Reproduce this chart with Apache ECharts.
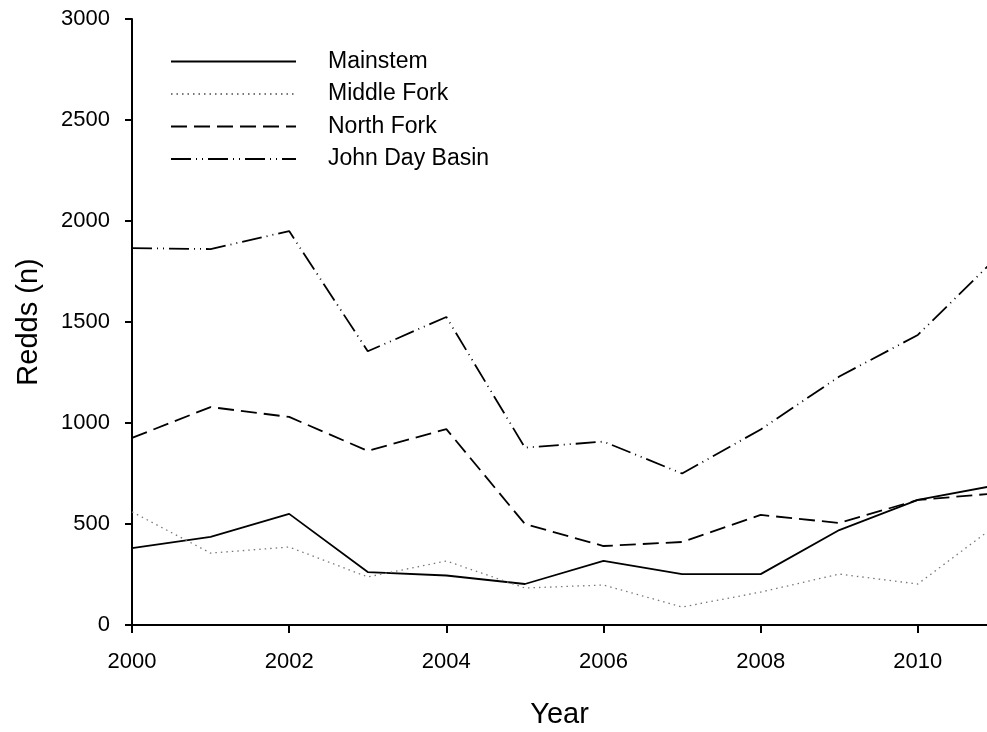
<!DOCTYPE html>
<html>
<head>
<meta charset="utf-8">
<script src="https://cdn.jsdelivr.net/npm/echarts@6/dist/echarts.min.js"></script>
<style>
  html, body { margin: 0; padding: 0; background: #fff; }
  #chart { width: 987px; height: 732px; }
</style>
</head>
<body>
<div id="chart"></div>
<script>
// data
var years = [2000, 2001, 2002, 2003, 2004, 2005, 2006, 2007, 2008, 2009, 2010, 2011];
var mainstem = [381, 436, 550, 262, 245, 203, 317, 252, 252, 470, 619, 692];
var middleFork = [560, 356, 386, 238, 317, 183, 198, 89, 163, 252, 203, 495];
var northFork = [926, 1079, 1030, 862, 970, 500, 391, 411, 545, 505, 619, 652];
var johnDayBasin = [1866, 1861, 1950, 1355, 1525, 878, 908, 750, 968, 1230, 1436, 1818];
var seriesNames = ['Mainstem', 'Middle Fork', 'North Fork', 'John Day Basin'];

function pairs(vals) {
    return years.map(function (y, i) { return [y, vals[i]]; });
}

var chart = echarts.init(document.getElementById('chart'));
var font = 'Liberation Sans, Arial, sans-serif';

chart.setOption({
    animation: false,
    backgroundColor: '#fff',
    grid: { left: 132, right: 0, top: 19, bottom: 107, outerBoundsMode: 'none', containLabel: false },
    legend: {
        orient: 'vertical',
        left: 165,
        top: 45,
        itemWidth: 125,
        itemHeight: 14,
        itemGap: 9.5,
        itemStyle: { opacity: 0 },
        textStyle: { fontFamily: font, fontSize: 23, color: '#000', padding: [0, 0, 0, 27] },
        data: seriesNames
    },
    xAxis: {
        type: 'value',
        min: 2000,
        max: 2010.88,
        interval: 2,
        name: 'Year',
        nameLocation: 'middle',
        nameGap: 75,
        nameTextStyle: { fontFamily: font, fontSize: 29, color: '#000' },
        axisLine: { onZero: false, lineStyle: { color: '#000', width: 2 } },
        axisTick: { show: true, length: 8, lineStyle: { color: '#000', width: 2 } },
        axisLabel: {
            fontFamily: font, fontSize: 22, color: '#000', margin: 26,
            showMaxLabel: false,
            formatter: function (v) { return String(v); }
        },
        splitLine: { show: false }
    },
    yAxis: {
        type: 'value',
        min: 0,
        max: 3000,
        interval: 500,
        name: 'Redds (n)',
        nameLocation: 'middle',
        nameGap: 89,
        nameRotate: 90,
        nameTextStyle: { fontFamily: font, fontSize: 29, color: '#000' },
        axisLine: { show: true, lineStyle: { color: '#000', width: 2 } },
        axisTick: { show: true, length: 7, lineStyle: { color: '#000', width: 2 } },
        axisLabel: {
            fontFamily: font, fontSize: 22, color: '#000', margin: 22,
            formatter: function (v) { return String(v); }
        },
        splitLine: { show: false }
    },
    series: [
        {
            name: 'Mainstem', type: 'line', symbol: 'none',
            data: pairs(mainstem),
            lineStyle: { color: '#000', width: 1.8, type: 'solid' },
            itemStyle: { color: '#000' }
        },
        {
            name: 'Middle Fork', type: 'line', symbol: 'none',
            data: pairs(middleFork),
            lineStyle: { color: '#777', width: 1.3, type: [1.5, 4] },
            itemStyle: { color: '#777' }
        },
        {
            name: 'North Fork', type: 'line', symbol: 'none',
            data: pairs(northFork),
            lineStyle: { color: '#000', width: 1.8, type: [16, 7] },
            itemStyle: { color: '#000' }
        },
        {
            name: 'John Day Basin', type: 'line', symbol: 'none',
            data: pairs(johnDayBasin),
            lineStyle: { color: '#000', width: 1.8, type: [20, 5, 1, 5, 1, 5] },
            itemStyle: { color: '#000' }
        }
    ]
});
</script>
</body>
</html>
